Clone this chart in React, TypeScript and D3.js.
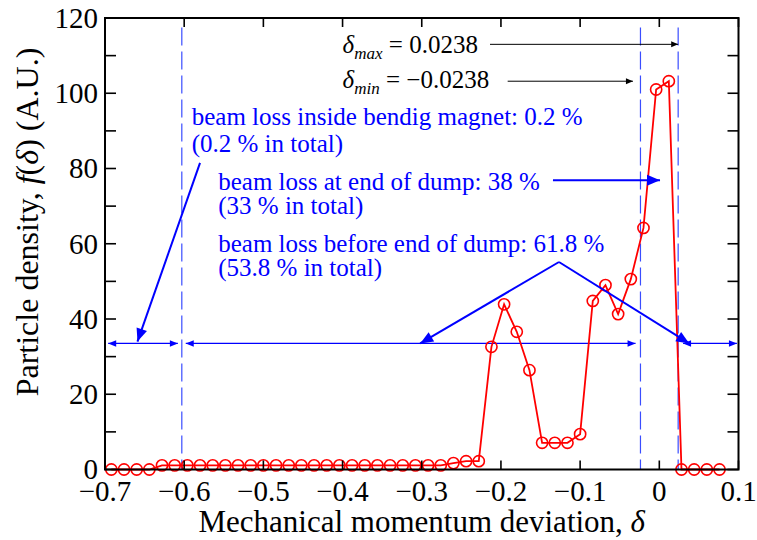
import React from "react";
import * as d3 from "d3";

// Momentum deviation of each histogram bin (bin centres)
const deltaValues = [
  -0.692, -0.676, -0.66, -0.644, -0.628, -0.612, -0.596, -0.58, -0.564, -0.548,
  -0.532, -0.516, -0.5, -0.484, -0.468, -0.452, -0.436, -0.42, -0.404, -0.388,
  -0.372, -0.356, -0.34, -0.324, -0.308, -0.292, -0.276, -0.26, -0.244, -0.228,
  -0.212, -0.196, -0.18, -0.164, -0.148, -0.132, -0.116, -0.1, -0.084, -0.068,
  -0.052, -0.036, -0.02, -0.004, 0.012, 0.028, 0.044, 0.06, 0.076,
];

// Particle density f(delta) in arbitrary units
const densityValues = [
  0, 0, 0, 0, 1.1, 1.1, 1.1, 1.1, 1.1, 1.1,
  1.1, 1.1, 1.1, 1.1, 1.1, 1.1, 1.1, 1.1, 1.1, 1.1,
  1.1, 1.1, 1.1, 1.1, 1.1, 1.1, 1.1, 1.7, 2.2, 2.2,
  32.6, 43.9, 36.6, 26.4, 7.1, 7.1, 7.1, 9.4, 44.8, 49.0,
  41.3, 50.6, 64.2, 101.0, 103.2, 0, 0, 0, 0,
];

const xTicks = [-0.7, -0.6, -0.5, -0.4, -0.3, -0.2, -0.1, 0, 0.1];
const yTicks = [0, 20, 40, 60, 80, 100, 120];
const yMinorTicks = [10, 30, 50, 70, 90, 110];

// Acceptance limits and bending-magnet edge
const deltaMax = 0.0238;
const deltaMin = -0.0238;
const magnetEdge = -0.603;

// Loss regions marked by double arrows
const lossLevel = 33.5;
const lossRegions: [number, number][] = [
  [-0.696, -0.608],
  [-0.598, -0.03],
  [0.03, 0.098],
];

const labelMax = "0.0238";
const labelMin = "\u22120.0238";
const noteLines = [
  "beam loss inside bendig magnet: 0.2 %",
  "(0.2 % in total)",
  "beam loss at end of dump: 38 %",
  "(33 % in total)",
  "beam loss before end of dump: 61.8 %",
  "(53.8 % in total)",
];

const W = 757;
const H = 540;
const left = 105;
const right = 738.5;
const top = 18;
const bottom = 469.5;

const SERIF = "'Liberation Serif', 'Times New Roman', serif";
const BLUE = "#0000ff";
const DASH_BLUE = "#3a4dff";

const fmt = (v: number) => {
  if (v === 0) return "0";
  const s = d3.format(".1f")(Math.abs(v));
  return v < 0 ? "\u2212" + s : s;
};

function Arrow({
  x1, y1, x2, y2, color, width, headLen, headHalf, both = false,
}: {
  x1: number; y1: number; x2: number; y2: number; color: string; width: number;
  headLen: number; headHalf: number; both?: boolean;
}) {
  const head = (tx: number, ty: number, fx: number, fy: number) => {
    const dx = tx - fx, dy = ty - fy;
    const len = Math.hypot(dx, dy);
    const ux = dx / len, uy = dy / len;
    const bx = tx - ux * headLen, by = ty - uy * headLen;
    const px = -uy * headHalf, py = ux * headHalf;
    return `${tx},${ty} ${bx + px},${by + py} ${bx - px},${by - py}`;
  };
  return (
    <g>
      <line x1={x1} y1={y1} x2={x2} y2={y2} stroke={color} strokeWidth={width} />
      <polygon points={head(x2, y2, x1, y1)} fill={color} />
      {both && <polygon points={head(x1, y1, x2, y2)} fill={color} />}
    </g>
  );
}

export default function App() {
  const x = d3.scaleLinear().domain([-0.7, 0.1]).range([left, right]);
  const y = d3.scaleLinear().domain([0, 120]).range([bottom, top]);

  const points = deltaValues.map((d, i) => [d, densityValues[i]] as [number, number]);
  const line = d3
    .line<[number, number]>()
    .x((d) => x(d[0]))
    .y((d) => y(d[1]));

  const tick = 11;
  const xt = 9;

  return (
    <svg
      width={W}
      height={H}
      style={{ position: "absolute", left: 0, top: 0, background: "#fff" }}
      fontFamily={SERIF}
    >
      {/* vertical guide lines */}
      {[magnetEdge, deltaMin, deltaMax].map((d, i) => (
        <line
          key={i}
          x1={x(d)}
          x2={x(d)}
          y1={y(117.5)}
          y2={y(0)}
          stroke={DASH_BLUE}
          strokeWidth={1.2}
          strokeDasharray="18,6"
        />
      ))}

      {/* loss-region double arrows */}
      {lossRegions.map(([a, b], i) => (
        <Arrow
          key={i}
          x1={x(a)}
          y1={y(lossLevel)}
          x2={x(b)}
          y2={y(lossLevel)}
          color={BLUE}
          width={1.3}
          headLen={8}
          headHalf={3.2}
          both
        />
      ))}

      {/* data */}
      <path d={line(points) ?? ""} fill="none" stroke="#ff0000" strokeWidth={1.8} />
      {points.map((p, i) => (
        <circle
          key={i}
          cx={x(p[0])}
          cy={y(p[1])}
          r={5.6}
          fill="none"
          stroke="#ff0000"
          strokeWidth={1.6}
        />
      ))}

      {/* frame */}
      <rect
        x={left}
        y={top}
        width={right - left}
        height={bottom - top}
        fill="none"
        stroke="#000"
        strokeWidth={2}
      />
      {xTicks.map((t) => (
        <g key={"x" + t}>
          <line x1={x(t)} x2={x(t)} y1={bottom} y2={bottom - xt} stroke="#000" strokeWidth={1.6} />
          <line x1={x(t)} x2={x(t)} y1={top} y2={top + xt} stroke="#000" strokeWidth={1.6} />
          <text x={x(t)} y={501} fontSize={29} textAnchor="middle">
            {fmt(t)}
          </text>
        </g>
      ))}
      {[...yTicks, ...yMinorTicks].map((t) => (
        <g key={"y" + t}>
          <line x1={left} x2={left + tick} y1={y(t)} y2={y(t)} stroke="#000" strokeWidth={1.6} />
          <line x1={right} x2={right - tick} y1={y(t)} y2={y(t)} stroke="#000" strokeWidth={1.6} />
        </g>
      ))}
      {yTicks.map((t) => (
        <text key={"yl" + t} x={98} y={y(t)} dy="0.34em" fontSize={29} textAnchor="end">
          {t}
        </text>
      ))}

      {/* axis titles */}
      <text x={(left + right) / 2} y={532} fontSize={31} textAnchor="middle">
        Mechanical momentum deviation, <tspan fontStyle="italic">δ</tspan>
      </text>
      <text
        transform={`translate(38,222) rotate(-90)`}
        fontSize={32}
        textAnchor="middle"
      >
        Particle density, <tspan fontStyle="italic">f</tspan>(<tspan fontStyle="italic">δ</tspan>) (A.U.)
      </text>

      {/* acceptance limits */}
      <text x={x(-0.4)} y={y(110.7)} fontSize={25}>
        <tspan fontStyle="italic">δ</tspan>
        <tspan fontStyle="italic" fontSize={17} dy={6}>max</tspan>
        <tspan dy={-6}> = {labelMax}</tspan>
      </text>
      <text x={x(-0.4)} y={y(101.3)} fontSize={25}>
        <tspan fontStyle="italic">δ</tspan>
        <tspan fontStyle="italic" fontSize={17} dy={6}>min</tspan>
        <tspan dy={-6}> = {labelMin}</tspan>
      </text>
      <Arrow x1={x(-0.2138)} y1={y(113)} x2={x(deltaMax)} y2={y(113)} color="#000" width={1} headLen={7} headHalf={3} />
      <Arrow x1={x(-0.1915)} y1={y(103.2)} x2={x(-0.0333)} y2={y(103.2)} color="#000" width={1} headLen={7} headHalf={3} />

      {/* loss annotations */}
      <g fill={BLUE} fontSize={25}>
        <text x={x(-0.5905)} y={y(91.6)}>{noteLines[0]}</text>
        <text x={x(-0.5905)} y={y(84.5)}>{noteLines[1]}</text>
        <text x={x(-0.557)} y={y(74.3)}>{noteLines[2]}</text>
        <text x={x(-0.557)} y={y(67.9)}>{noteLines[3]}</text>
        <text x={x(-0.557)} y={y(57.8)}>{noteLines[4]}</text>
        <text x={x(-0.557)} y={y(51.3)}>{noteLines[5]}</text>
      </g>
      <Arrow x1={x(-0.58)} y1={y(81.5)} x2={x(-0.659)} y2={y(34)} color={BLUE} width={2} headLen={13} headHalf={5.5} />
      <Arrow x1={x(-0.1343)} y1={y(76.9)} x2={x(0.0009)} y2={y(76.9)} color={BLUE} width={2} headLen={13} headHalf={5.5} />
      <Arrow x1={x(-0.1267)} y1={y(55.15)} x2={x(-0.302)} y2={y(lossLevel)} color={BLUE} width={2} headLen={13} headHalf={5.5} />
      <Arrow x1={x(-0.1267)} y1={y(55.15)} x2={x(0.0378)} y2={y(lossLevel)} color={BLUE} width={2} headLen={13} headHalf={5.5} />
    </svg>
  );
}
